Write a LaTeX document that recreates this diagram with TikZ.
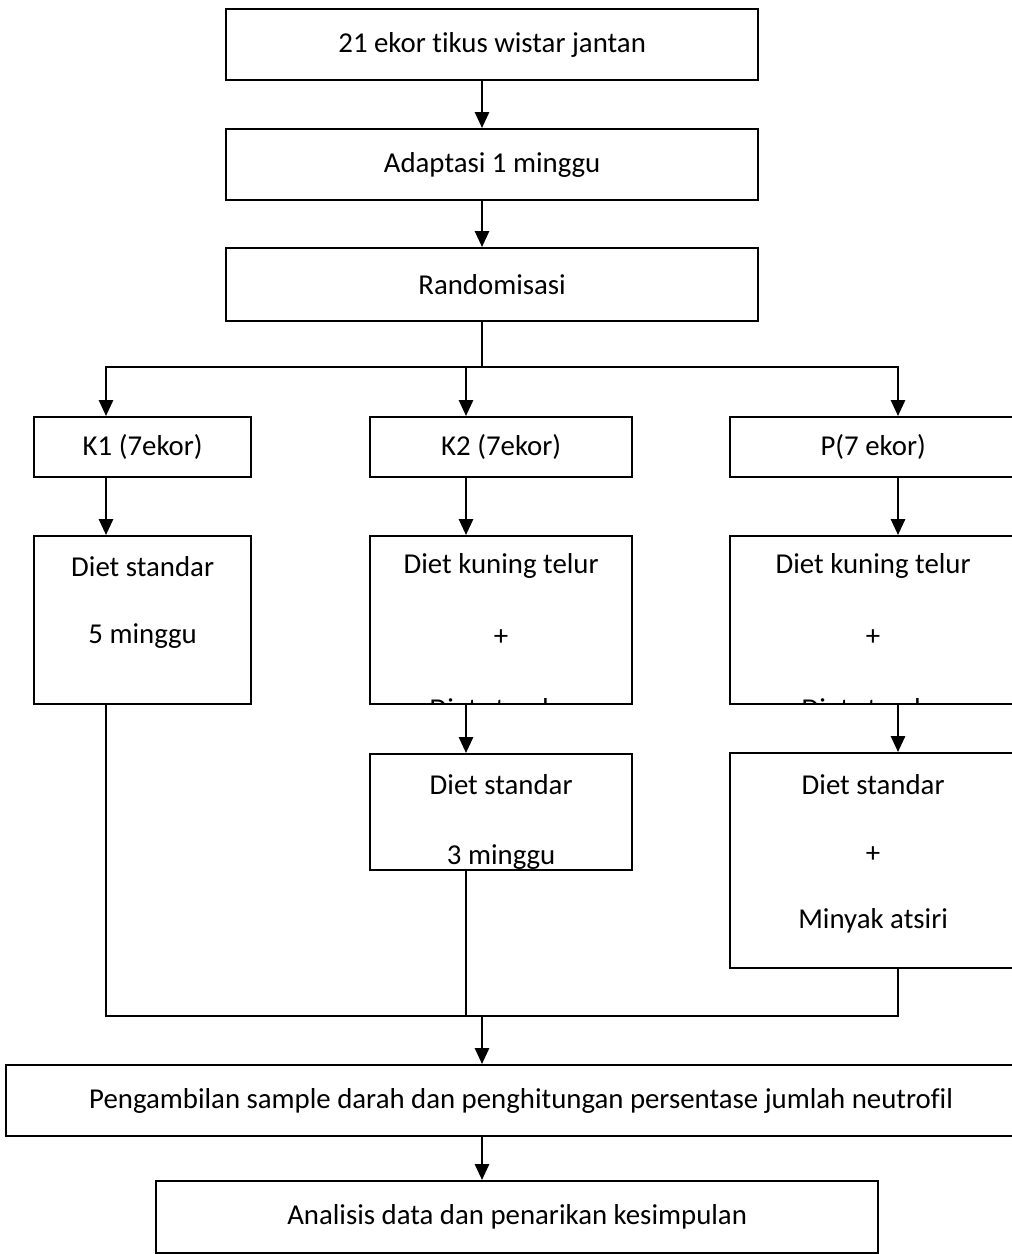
\documentclass[tikz,border=0pt]{standalone}
\usepackage{fontspec}
\setmainfont{Carlito}[Ligatures=NoCommon]
\usetikzlibrary{arrows.meta, positioning}
\newcommand{\px}{0.02cm}
\tikzset{
  every picture/.style={font=\fontsize{16.4}{20}\selectfont, line width=1.3pt},
  box/.style 2 args={draw, anchor=north west, inner sep=0pt, minimum width=#1*\px, minimum height=#2*\px},
  lines/.style={path picture={
      \foreach \txt/\dy in {#1}
        \node[draw=none, anchor=center, inner sep=0pt, minimum width=0pt, minimum height=0pt]
          at ([yshift=-\dy*\px]path picture bounding box.north) {\txt};}},
  arrow/.style={-{Triangle[length=9pt, width=8pt]}},
  link/.style={-},
}
\begin{document}
\begin{tikzpicture}[x=0.02cm, y=-0.02cm]
  \useasboundingbox (0,0) rectangle (1011,1254);
  % top chain
  \node[box={532}{71}] (start) at (225,8) {21 ekor tikus wistar jantan};
  \node[box={532}{71}] (adapt) at (225,128) {Adaptasi 1 minggu};
  \node[box={532}{73}] (rand) at (225,247) {Randomisasi};
  % groups
  \node[box={217}{60}] (k1) at (33,416) {K1 (7ekor)};
  \node[box={262}{60}] (k2) at (369,416) {K2 (7ekor)};
  \node[box={286}{60}] (p) at (729,416) {P(7 ekor)};
  \coordinate (k1col) at (106,0);
  \coordinate (k2col) at (466,0);
  \coordinate (pcol) at (898,0);
  % first treatment
  \node[box={217}{168}, lines={Diet standar/30, 5 minggu/100}] (k1diet) at (33,535) {};
  \node[box={262}{168}, lines={Diet kuning telur/30, +/101, Diet standar/172}] (k2diet) at (369,535) {};
  \node[box={286}{168}, lines={Diet kuning telur/30, +/101, Diet standar/172}] (pdiet) at (729,535) {};
  % second treatment
  \node[box={262}{116}, lines={Diet standar/30, 3 minggu/103}] (k2std) at (369,753) {};
  \node[box={286}{215}, lines={Diet standar/31, +/101, Minyak atsiri/168}] (pstd) at (729,752) {};
  % end
  \node[box={1030}{71}] (sample) at (5,1064) {Pengambilan sample darah dan penghitungan persentase jumlah neutrofil};
  \node[box={722}{72}] (anal) at (155,1180) {Analisis data dan penarikan kesimpulan};

  \draw[arrow] (start.south -| 482,0) -- (adapt.north -| 482,0);
  \draw[arrow] (adapt.south -| 482,0) -- (rand.north -| 482,0);
  \coordinate (split) at (482,367);
  \draw[link] (rand.south -| split) -- (split);
  \draw[arrow] (split) -| (k1.north -| k1col);
  \draw[arrow] (split) -| (k2.north -| k2col);
  \draw[arrow] (split) -| (p.north -| pcol);
  \draw[arrow] (k1.south -| k1col) -- (k1diet.north -| k1col);
  \draw[arrow] (k2.south -| k2col) -- (k2diet.north -| k2col);
  \draw[arrow] (p.south -| pcol) -- (pdiet.north -| pcol);
  \draw[arrow] (k2diet.south -| k2col) -- (k2std.north -| k2col);
  \draw[arrow] (pdiet.south -| pcol) -- (pstd.north -| pcol);
  % merge
  \coordinate (merge) at (482,1016);
  \draw[link] (k1diet.south -| k1col) |- (merge -| pcol) -- (pstd.south -| pcol);
  \draw[link] (k2std.south -| k2col) -- (merge -| k2col);
  \draw[arrow] (merge) -- (sample.north -| merge);
  \draw[arrow] (sample.south -| merge) -- (anal.north -| merge);
\end{tikzpicture}
\end{document}
